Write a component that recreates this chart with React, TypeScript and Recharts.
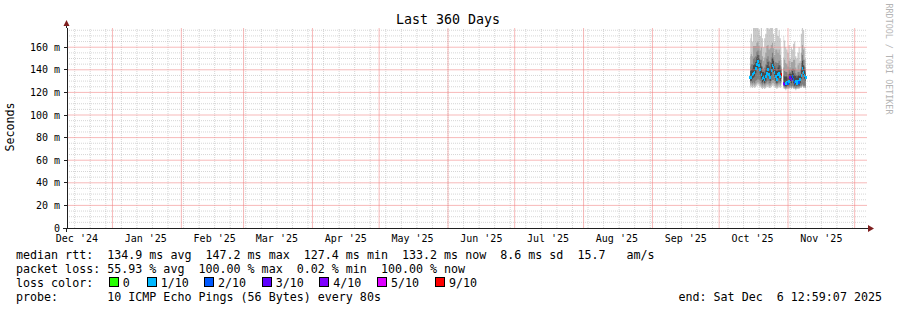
import { ComposedChart, Area, Scatter, XAxis, YAxis, ReferenceLine } from "recharts";

const FONT = '"DejaVu Sans Mono", monospace';
const DAY_MS = 86400000;

// graph window: 360 days ending at the "end:" stamp
const GRAPH_END = Date.UTC(2025, 11, 6, 12, 59, 7);
const GRAPH_START = GRAPH_END - 360 * DAY_MS;

const MONTH_STARTS = [
  "2024-12-01", "2025-01-01", "2025-02-01", "2025-03-01", "2025-04-01", "2025-05-01", "2025-06-01",
  "2025-07-01", "2025-08-01", "2025-09-01", "2025-10-01", "2025-11-01", "2025-12-01",
];
const MONTH_LABELS = [
  "Dec '24", "Jan '25", "Feb '25", "Mar '25", "Apr '25", "May '25", "Jun '25",
  "Jul '25", "Aug '25", "Sep '25", "Oct '25", "Nov '25", "Dec '25",
];
const FIRST_SUNDAY = "2024-12-15";

const Y_MAX = 177;
const Y_LABEL_TICKS = [0, 20, 40, 60, 80, 100, 120, 140, 160];
const Y_MINOR_STEP = 5;

// samples every 12h from Oct 15; null = no data
const SAMPLE_START = "2025-10-15T00:00:00Z";
const SAMPLE_STEP_HOURS = 12;

const MEDIAN = [
  133, 133, 136, 137, 138, 141, 145, 147.2, 144, 140, 136, 132, 133, 131, 134, 137, 140, 136, 133, 139,
  144, 142, 138, 134, 131, 136, 137, 134, 136, null,
  128, 127.4, 128, 129, 128, 130, 133, 131, 134, 131, 129, 130, 128, 130, 129, 131, 135, 141, 138, 135, 133.2,
];
// pings lost out of 10
const LOSS = [
  1, 1, 1, 1, 1, 1, 1, 1, 1, 1, 1, 1, 1, 1, 1, 1, 1, 1, 1, 1,
  1, 1, 1, 1, 1, 1, 1, 1, 9, null,
  4, 3, 1, 1, 2, 1, 3, 4, 2, 2, 2, 1, 1, 1, 2, 1, 1, 1, 1, 1, 1,
];

const OUTER_HI = [
  168, 172, 165, 180, 180, 178, 180, 180, 175, 170, 180, 168, 160, 168, 172, 180, 180, 176, 180, 180,
  180, 172, 165, 178, 180, 170, 175, 168, 160, null,
  170, 166, 160, 158, 155, 162, 150, 160, 158, 163, 165, 152, 150, 155, 160, 148, 172, 180, 175, 160, 150,
];
const OUTER_LO = [
  124, 125, 124, 125, 124, 125, 126, 127, 126, 125, 124, 123, 124, 123, 124, 125, 125, 124, 124, 125,
  126, 126, 125, 124, 123, 124, 125, 124, 125, null,
  123, 123, 122, 123, 123, 123, 124, 123, 124, 123, 123, 122, 123, 123, 123, 124, 124, 125, 124, 124, 123,
];
const MID_HI = [
  152, 154, 152, 161, 161, 161, 164, 165, 161, 157, 160, 152, 148, 151, 155, 161, 162, 158, 159, 162,
  164, 159, 153, 158, 158, 155, 158, 153, 149, null,
  151, 149, 146, 145, 143, 148, 142, 147, 147, 149, 149, 142, 140, 144, 146, 140, 155, 162, 158, 149, 142,
];
const MID_LO = [
  126, 127, 126, 127, 126, 127, 128, 129, 128, 127, 126, 125, 126, 125, 126, 127, 127, 126, 126, 127,
  128, 128, 127, 126, 125, 126, 127, 126, 127, null,
  124, 124, 123, 124, 124, 124, 125, 124, 125, 124, 124, 123, 124, 124, 124, 125, 125, 126, 125, 125, 124,
];
const INNER_HI = [
  143, 145, 145, 150, 151, 152, 156, 157, 153, 149, 149, 143, 141, 142, 145, 150, 152, 148, 147, 151,
  155, 151, 146, 147, 146, 146, 148, 144, 143, null,
  142, 139, 138, 138, 136, 140, 138, 140, 141, 141, 140, 137, 135, 138, 138, 136, 146, 153, 149, 143, 138,
];
const INNER_LO = [
  128, 129, 128, 129, 128, 130, 131, 132, 131, 130, 128, 127, 128, 127, 128, 129, 130, 128, 128, 130,
  131, 131, 130, 128, 127, 128, 129, 128, 129, null,
  125, 125, 124, 125, 125, 125, 126, 125, 126, 125, 125, 124, 125, 125, 125, 126, 126, 127, 126, 126, 125,
];
const CORE_HI = [
  139, 140, 141, 144, 145, 147, 151, 153, 150, 146, 143, 138, 138, 137, 141, 144, 147, 143, 141, 146,
  150, 148, 143, 141, 139, 142, 144, 140, 141, null,
  135, 134, 134, 134, 133, 136, 137, 136, 139, 137, 135, 135, 133, 135, 135, 135, 141, 148, 144, 140, 137,
];
const CORE_LO = [
  130, 130, 132, 133, 134, 137, 140, 142, 139, 136, 132, 129, 130, 128, 130, 133, 136, 132, 130, 135,
  140, 138, 134, 130, 128, 132, 133, 130, 132, null,
  126, 126, 125, 126, 126, 127, 130, 128, 131, 128, 126, 127, 126, 127, 126, 128, 132, 138, 135, 132, 130,
];

const LOSS_LEVELS = [0, 1, 2, 3, 4, 5, 9];
const LOSS_LABELS = ["0", "1/10", "2/10", "3/10", "4/10", "5/10", "9/10"];
const LOSS_COLORS = ["#26ff00", "#00b8ff", "#0059ff", "#5e00ff", "#7e00ff", "#dd00ff", "#ff0000"];
const LOSS_LEGEND_X = [108.7, 146.7, 204, 261.7, 319.3, 377, 435];

const RTT_STATS = ["134.9 ms avg", "147.2 ms max", "127.4 ms min", "133.2 ms now", "8.6 ms sd"];
const AM_PER_S = "15.7";
const LOSS_STATS = ["55.93 % avg", "100.00 % max", "0.02 % min", "100.00 % now"];
const PROBE = "10 ICMP Echo Pings (56 Bytes) every 80s";
const END_STAMP = "end: Sat Dec  6 12:59:07 2025";

const SMOKE = [
  { key: "outer", color: "#cacaca" },
  { key: "mid", color: "#a4a4a4" },
  { key: "inner", color: "#7e7e7e" },
  { key: "core", color: "#4a4a4a" },
];

const band = (lo: (number | null)[], hi: (number | null)[], i: number) =>
  lo[i] == null || hi[i] == null ? null : [lo[i], hi[i]];

const sampleStart = Date.parse(SAMPLE_START);
const rows = MEDIAN.map((median, i) => ({
  t: sampleStart + i * SAMPLE_STEP_HOURS * 3600000,
  median,
  loss: LOSS[i],
  outer: band(OUTER_LO, OUTER_HI, i),
  mid: band(MID_LO, MID_HI, i),
  inner: band(INNER_LO, INNER_HI, i),
  core: band(CORE_LO, CORE_HI, i),
}));
const medianRows = rows.filter((r) => r.median != null);

const inWindow = (t: number) => t > GRAPH_START && t < GRAPH_END;
const monthTimes = MONTH_STARTS.map((d) => Date.parse(d + "T00:00:00Z"));
// rrdtool centres month labels half a month after the month start
const labelTicks = monthTimes.map((t) => t + 15 * DAY_MS).filter(inWindow);
const labelByTick = new Map(monthTimes.map((t, i) => [t + 15 * DAY_MS, MONTH_LABELS[i]]));

const weekTicks: number[] = [];
for (let t = Date.parse(FIRST_SUNDAY + "T00:00:00Z"); t < GRAPH_END; t += 7 * DAY_MS) weekTicks.push(t);
const minorY: number[] = [];
for (let v = Y_MINOR_STEP; v <= Y_MAX; v += Y_MINOR_STEP) if (!Y_LABEL_TICKS.includes(v)) minorY.push(v);

function lossColor(lost: number) {
  let c = LOSS_COLORS[0];
  LOSS_LEVELS.forEach((lvl, k) => {
    if (lost >= lvl) c = LOSS_COLORS[k];
  });
  return c;
}

function MedianMark(props: any) {
  const { cx, cy, payload } = props;
  if (cx == null || cy == null || !Number.isFinite(cy)) return null;
  return (
    <rect x={cx - 0.8} y={cy - 1.5} width={1.6} height={3} fill={lossColor(payload.loss)} shapeRendering="crispEdges" />
  );
}

const minorGrid = { stroke: "#999999", strokeOpacity: 0.4, strokeDasharray: "1 1" };
const majorGrid = { stroke: "#f08080", strokeOpacity: 0.55 };

export default function App() {
  const textStyle = { whiteSpace: "pre" as const };
  return (
    <div style={{ position: "absolute", left: 0, top: 0, width: 897, height: 310, background: "#fff", fontFamily: FONT }}>
      <ComposedChart width={897} height={310} data={rows} margin={{ top: 28, right: 30, bottom: 62, left: 0 }}>
        <XAxis
          dataKey="t"
          type="number"
          domain={[GRAPH_START, GRAPH_END]}
          ticks={labelTicks}
          interval={0}
          allowDataOverflow
          height={20}
          tickSize={0}
          tickMargin={7}
          tickLine={false}
          axisLine={{ stroke: "#1f1f1f", shapeRendering: "crispEdges" }}
          tick={{ fontSize: 10, fill: "#000", fontFamily: FONT }}
          tickFormatter={(v: number) => labelByTick.get(v) ?? ""}
        />
        <YAxis
          type="number"
          domain={[0, Y_MAX]}
          ticks={Y_LABEL_TICKS}
          interval={0}
          allowDataOverflow
          width={67}
          tickSize={3}
          tickMargin={4}
          tickLine={{ stroke: "#1f1f1f", shapeRendering: "crispEdges" }}
          axisLine={{ stroke: "#1f1f1f", shapeRendering: "crispEdges" }}
          tick={{ fontSize: 10, fill: "#000", fontFamily: FONT }}
          tickFormatter={(v: number) => (v === 0 ? "0" : `${v} m`)}
        />
        {SMOKE.map((s) => (
          <Area
            key={s.key}
            dataKey={s.key}
            type="step"
            fill={s.color}
            fillOpacity={1}
            stroke="none"
            connectNulls={false}
            isAnimationActive={false}
            activeDot={false}
            dot={false}
          />
        ))}
        {weekTicks.map((t) => (
          <ReferenceLine key={`w${t}`} x={t} {...minorGrid} />
        ))}
        {minorY.map((v) => (
          <ReferenceLine key={`n${v}`} y={v} {...minorGrid} />
        ))}
        {monthTimes.filter(inWindow).map((t) => (
          <ReferenceLine key={`m${t}`} x={t} {...majorGrid} />
        ))}
        {Y_LABEL_TICKS.filter((v) => v > 0).map((v) => (
          <ReferenceLine key={`y${v}`} y={v} {...majorGrid} />
        ))}
        <Scatter data={medianRows} dataKey="median" shape={MedianMark} isAnimationActive={false} />
      </ComposedChart>

      <svg
        width={897}
        height={310}
        style={{ position: "absolute", left: 0, top: 0, pointerEvents: "none" }}
        fontFamily={FONT}
      >
        <text x={448} y={24} textAnchor="middle" fontSize={13.3} fill="#000">
          Last 360 Days
        </text>
        <text transform="translate(14 127) rotate(-90)" textAnchor="middle" fontSize={11.66} fill="#000">
          Seconds
        </text>
        <text transform="translate(886 59) rotate(90)" textAnchor="middle" fontSize={8.4} fill="#b4b4b4">
          RRDTOOL / TOBI OETIKER
        </text>

        {/* axis extensions and arrows */}
        <line x1={66.5} y1={25} x2={66.5} y2={28} stroke="#1f1f1f" />
        <line x1={66.5} y1={228} x2={66.5} y2={232} stroke="#1f1f1f" />
        <line x1={63} y1={228.5} x2={67} y2={228.5} stroke="#1f1f1f" />
        <line x1={867} y1={228.5} x2={869} y2={228.5} stroke="#1f1f1f" />
        <polygon points="63.5,26 69.5,26 66.5,20" fill="#7f1f1f" />
        <polygon points="868,225 868,232 874,228.5" fill="#7f1f1f" />

        <text x={16} y={259} fontSize={11.66} fill="#000" style={textStyle}>
          {`median rtt:  ${RTT_STATS.join("  ")}  ${AM_PER_S}   am/s`}
        </text>
        <text x={16} y={273} fontSize={11.66} fill="#000" style={textStyle}>
          {`packet loss: ${LOSS_STATS.join("  ")}`}
        </text>
        <text x={16} y={287} fontSize={11.66} fill="#000" style={textStyle}>
          loss color:
        </text>
        {LOSS_LABELS.map((label, k) => (
          <g key={label}>
            <rect
              x={LOSS_LEGEND_X[k] + 0.5}
              y={277.5}
              width={9}
              height={9}
              fill={LOSS_COLORS[k]}
              stroke="#000"
              strokeWidth={1}
              shapeRendering="crispEdges"
            />
            <text x={LOSS_LEGEND_X[k] + 14} y={287} fontSize={11.66} fill="#000">
              {label}
            </text>
          </g>
        ))}
        <text x={16} y={301} fontSize={11.66} fill="#000" style={textStyle}>
          {`probe:       ${PROBE}`}
        </text>
        <text x={882} y={301} textAnchor="end" fontSize={11.66} fill="#000" style={textStyle}>
          {END_STAMP}
        </text>
      </svg>
    </div>
  );
}
